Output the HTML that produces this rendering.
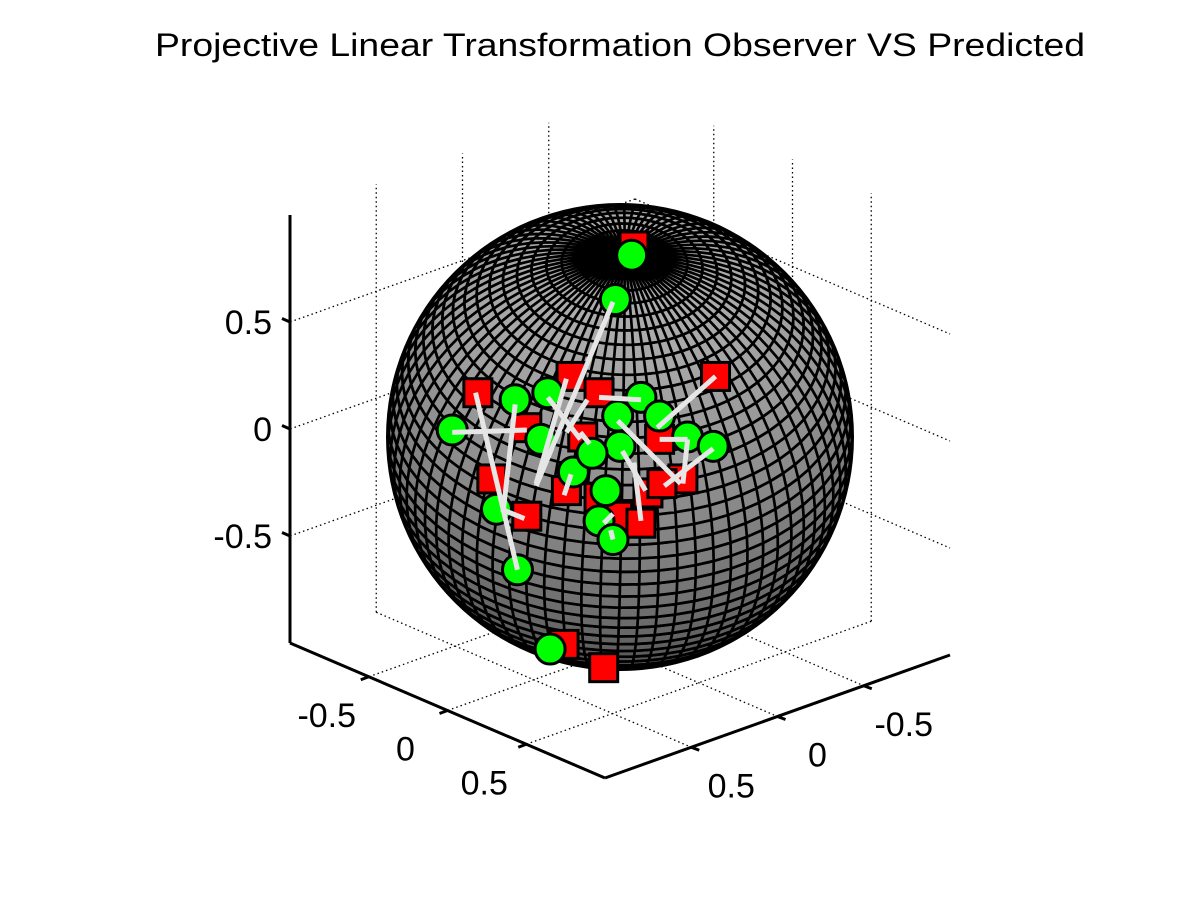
<!DOCTYPE html>
<html><head><meta charset="utf-8"><style>
html,body{margin:0;padding:0;background:#fff;}
svg{display:block;font-family:"Liberation Sans",sans-serif;}
</style></head><body>
<svg id="chart" width="1200" height="900" viewBox="0 0 1200 900" xmlns="http://www.w3.org/2000/svg">
<rect width="1200" height="900" fill="#fff"/>
<text x="620" y="56" text-anchor="middle" font-size="32" textLength="930" lengthAdjust="spacingAndGlyphs">Projective Linear Transformation Observer VS Predicted</text>
<g id="grid"></g>
<g id="axes"></g>
<defs><clipPath id="sc"><circle cx="620" cy="437" r="233"/></clipPath></defs>
<circle cx="620" cy="437" r="234" fill="#000"/>
<g id="sphere" clip-path="url(#sc)"></g>
<g id="marks"></g>
</svg>
<script>
// data
const tickValues = [-0.5, 0, 0.5];
const tickLabels = ["-0.5", "0", "0.5"];
// observed points (normalized camera-plane coords)
const obsU = [0.05,-0.02,-0.72,-0.45,-0.31,-0.34,0.09,-0.01,0.00,0.17,0.29,0.40,-0.20,-0.06,-0.09,-0.03,-0.53,-0.44,-0.30,-0.12];
const obsW = [-0.78,-0.59,-0.03,-0.16,-0.19,0.01,-0.17,-0.09,0.04,-0.09,0.00,0.04,0.15,0.23,0.36,0.44,0.31,0.57,0.91,0.07];
// predicted points
const predU = [0.06,-0.61,-0.21,-0.09,0.41,-0.40,-0.16,0.17,-0.55,-0.40,-0.23,-0.09,0.12,0.27,-0.01,0.09,-0.24,-0.07,0.18];
const predW = [-0.82,-0.19,-0.26,-0.19,-0.26,-0.04,0.00,0.01,0.18,0.34,0.23,0.26,0.24,0.18,0.34,0.37,0.89,0.99,0.20];
// connecting error lines
const segU1 = [-0.03,-0.62,-0.72,-0.45,-0.51,0.41,-0.09,-0.01,0.17,0.29,0.40,0.01,0.06,-0.31,-0.14,-0.21,-0.03,-0.04,-0.23,-0.17];
const segW1 = [-0.58,-0.19,-0.02,-0.14,0.31,-0.26,-0.17,-0.07,0.01,0.01,0.05,0.06,0.11,-0.17,-0.16,0.16,0.33,0.40,-0.25,-0.02];
const segU2 = [-0.36,-0.44,-0.40,-0.50,-0.41,0.16,0.09,0.26,0.29,0.27,0.19,0.11,0.09,-0.17,-0.23,-0.24,-0.07,-0.03,-0.36,-0.13];
const segW2 = [0.21,0.57,-0.03,0.31,0.35,-0.04,-0.16,0.20,0.01,0.20,0.21,0.23,0.36,0.01,-0.02,0.25,0.37,0.44,0.20,0.03];

const NS="http://www.w3.org/2000/svg";
function mk(tag, attrs, parent){const e=document.createElementNS(NS,tag);for(const k in attrs)e.setAttribute(k,attrs[k]);parent.appendChild(e);return e;}
function P(a,b,z){return [620+a*157.5-b*172.5, 435+a*67.5+b*61.5-z*214];}
const grid=document.getElementById('grid'), axes=document.getElementById('axes'), marks=document.getElementById('marks');
const dot={stroke:"#000","stroke-width":1.3,"stroke-dasharray":"1.5 3",fill:"none"};
function line(p,q,st,par,name){const l=mk('line',Object.assign({x1:p[0],y1:p[1],x2:q[0],y2:q[1]},st),par);return l;}
tickValues.forEach(t=>{
  line(P(t,-1,-1),P(t,1,-1),dot,grid,'floor-grid-a');
  line(P(-1,t,-1),P(1,t,-1),dot,grid,'floor-grid-b');
  line(P(-1,t,-1),P(-1,t,1),dot,grid,'wall-grid-vertical');
  line(P(-1,-1,t),P(-1,1,t),dot,grid,'wall-grid-horizontal');
  line(P(t,-1,-1),P(t,-1,1),dot,grid,'wall2-grid-vertical');
  line(P(-1,-1,t),P(1,-1,t),dot,grid,'wall2-grid-horizontal');
});
const solid={stroke:"#000","stroke-width":3,fill:"none"};
line(P(-1,1,-1),P(-1,1,1),solid,axes,'z-axis-line');
line(P(-1,1,-1),P(1,1,-1),solid,axes,'x-axis-line');
line(P(1,1,-1),P(1,-1,-1),solid,axes,'y-axis-line');
tickValues.forEach((t,i)=>{
  let p=P(-1,1,t); line(p,[p[0]-8,p[1]-3.5],solid,axes,'z-tick');
  let tx=mk('text',{x:p[0]-18,y:p[1]+12,"text-anchor":"end","font-size":34},axes);tx.textContent=tickLabels[i];
  
  p=P(t,1,-1); line(p,[p[0]-8,p[1]+3],solid,axes,'x-tick');
  tx=mk('text',{x:p[0]-42,y:p[1]+50,"text-anchor":"middle","font-size":34},axes);tx.textContent=tickLabels[i];
  
  p=P(1,t,-1); line(p,[p[0]+8,p[1]+3],solid,axes,'y-tick');
  tx=mk('text',{x:p[0]+40,y:p[1]+50,"text-anchor":"middle","font-size":34},axes);tx.textContent=tickLabels[i];
  
});
// sphere mesh
const CX=620, CY=437, R=233;
function nrm(v){const l=Math.hypot(v[0],v[1],v[2]);return v.map(x=>x/l);}
const p=nrm([0.02,-0.77,0.63]);
let e1=[1,0,0];const d0=p[0];e1=nrm([e1[0]-d0*p[0],-d0*p[1],-d0*p[2]]);
const e2=[p[1]*e1[2]-p[2]*e1[1],p[2]*e1[0]-p[0]*e1[2],p[0]*e1[1]-p[1]*e1[0]];
const NL=76, NT=46;
function pt(i,j){const lat=-Math.PI/2+Math.PI*j/NT, lon=2*Math.PI*i/NL;const c=Math.cos(lat),s=Math.sin(lat);
  return [0,1,2].map(k=>c*(Math.cos(lon)*e1[k]+Math.sin(lon)*e2[k])+s*p[k]);}
const sph=document.getElementById('sphere');
const byCol={};
for(let j=0;j<NT;j++){for(let i=0;i<NL;i++){
  const a=pt(i,j),b=pt(i+1,j),c=pt(i+1,j+1),q=pt(i,j+1);
  if(a[2]+b[2]+c[2]+q[2]<-0.08)continue;
  const sl=Math.sin(-Math.PI/2+Math.PI*(j+0.5)/NT);
  const g=Math.round(255*(0.47+0.22*sl));
  const path="M"+[a,b,c,q].map(v=>(CX+R*v[0]).toFixed(1)+","+(CY+R*v[1]).toFixed(1)).join("L")+"Z";
  (byCol[g]=byCol[g]||[]).push(path);
}}
for(const g in byCol){const e=mk('path',{d:byCol[g].join(""),fill:`rgb(${g},${g},${g})`,stroke:"#000","stroke-width":2.7,"stroke-linejoin":"round"},sph);
  }
// markers
function sx(u){return CX+R*u;} function sy(w){return CY+R*w;}
predU.forEach((u,i)=>{const r=mk('rect',{x:sx(u)-14,y:sy(predW[i])-14,width:28,height:28,fill:"#f00",stroke:"#000","stroke-width":3},marks);
  });
obsU.forEach((u,i)=>{const c=mk('circle',{cx:sx(u),cy:sy(obsW[i]),r:15,fill:"#0f0",stroke:"#000","stroke-width":3},marks);
  });
segU1.forEach((u,i)=>{const l=mk('line',{x1:sx(u),y1:sy(segW1[i]),x2:sx(segU2[i]),y2:sy(segW2[i]),stroke:"#e6e6e6","stroke-width":5},marks);
  });
</script>
</body></html>
